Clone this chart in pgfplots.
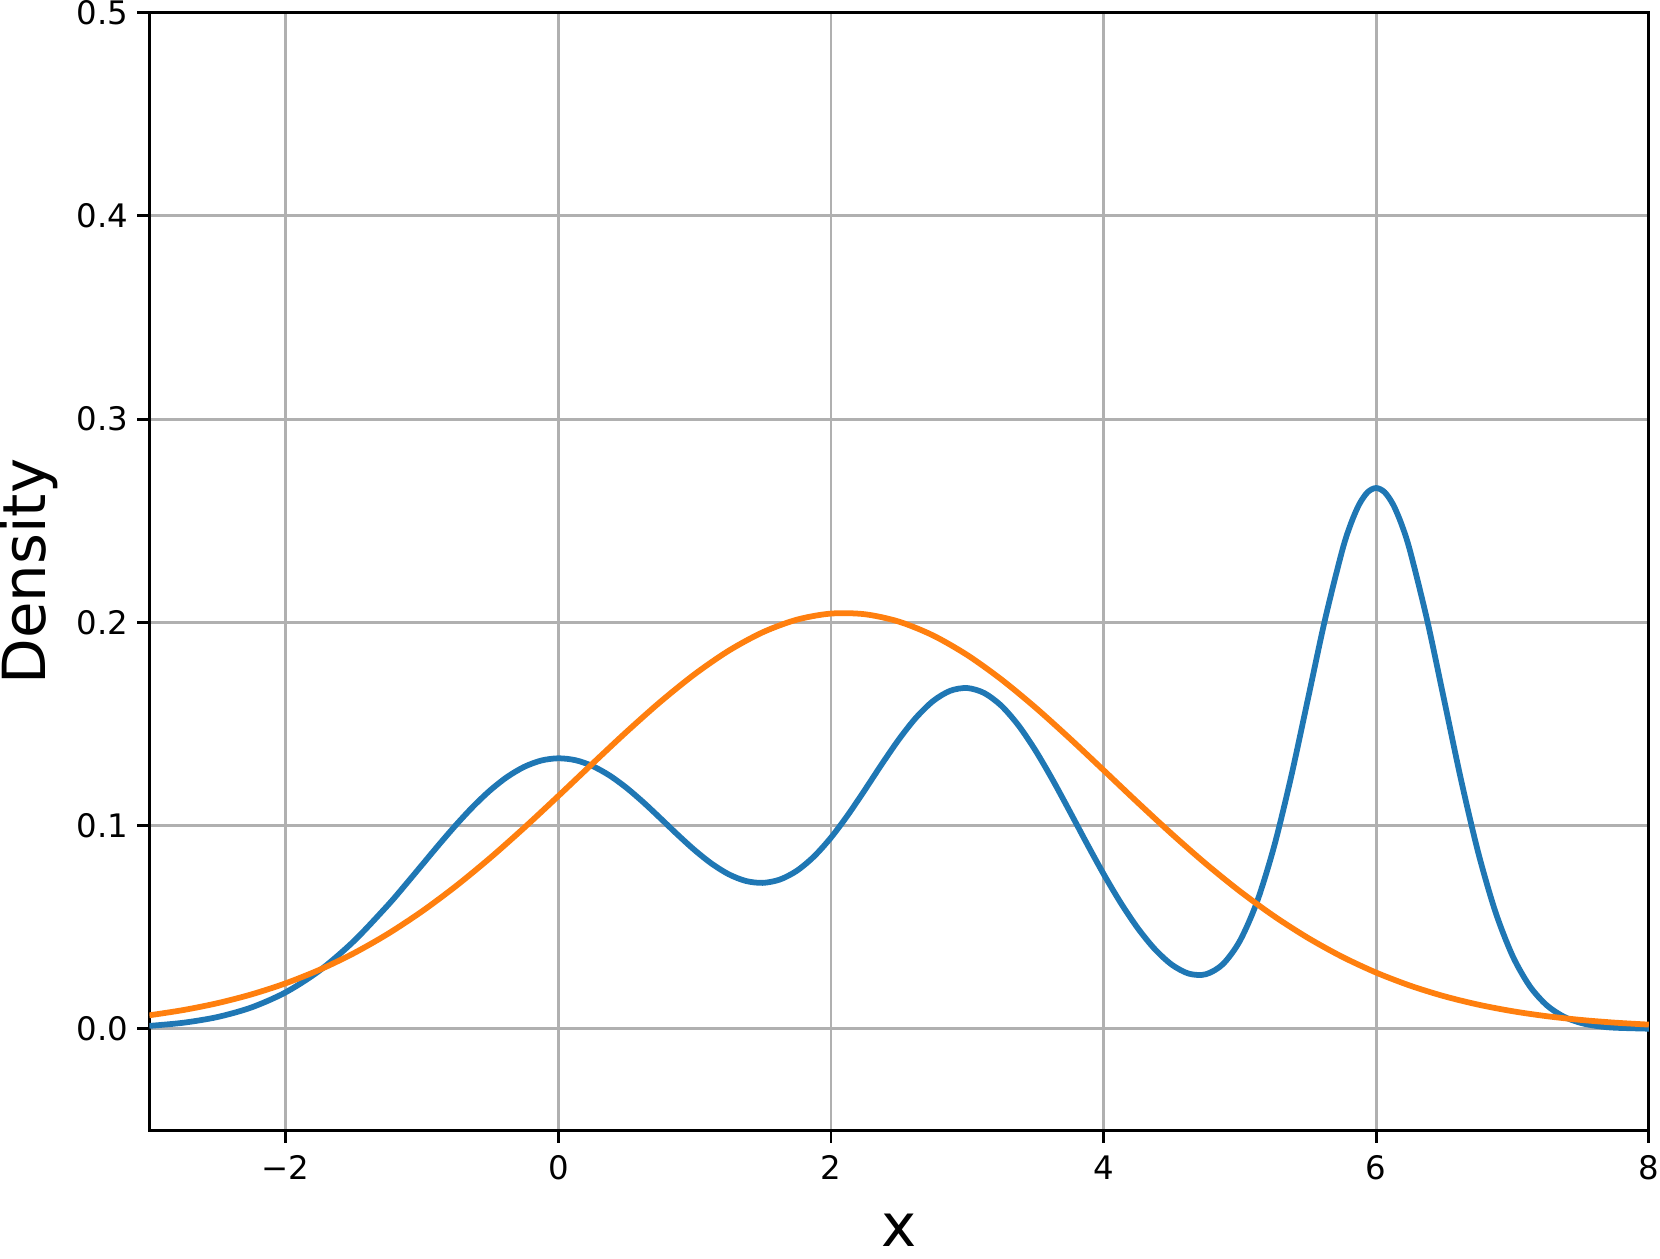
\documentclass[border=0pt]{standalone}
\usepackage{fontspec}
\setmainfont{DejaVu Sans}
\usepackage{pgfplots}
\pgfplotsset{compat=1.18}
\definecolor{mplblue}{HTML}{1F77B4}
\definecolor{mplorange}{HTML}{FF7F0E}
\definecolor{mplgrid}{HTML}{B0B0B0}

\begin{document}
\begin{tikzpicture}
\begin{axis}[
    scale only axis,
    width=416.6pt, height=310.6pt,
    xmin=-3, xmax=8, ymin=-0.05, ymax=0.5,
    xtick={-2,0,2,4,6,8},
    xticklabels={−2,0,2,4,6,8},
    ytick={0,0.1,0.2,0.3,0.4,0.5},
    yticklabels={0.0,0.1,0.2,0.3,0.4,0.5},
    tick pos=left, tick align=outside,
    major tick length=3.4pt,
    tick style={black, line width=0.8pt},
    grid=major,
    grid style={mplgrid, line width=0.8pt},
    axis line style={line width=0.8pt},
    ticklabel style={font=\fontsize{9}{10.8}\selectfont},
    yticklabel style={xshift=1pt},
    label style={font=\fontsize{16.5}{20}\selectfont},
    xlabel={x}, ylabel={Density},
    xlabel style={at={(axis description cs:0.5,-0.1037)}, anchor=base},
    ylabel style={at={(axis description cs:-0.0696,0.5)}, anchor=base},
]
% mixture density
\addplot[mplblue, line width=1.6pt, smooth] coordinates {
    (-3,0.001477) (-2.75,0.003031) (-2.5,0.005843) (-2.25,0.010580)
    (-2,0.017997) (-1.75,0.028759) (-1.5,0.043173) (-1.25,0.060883)
    (-1.125,0.070626) (-1,0.080657) (-0.875,0.090686) (-0.75,0.100379)
    (-0.625,0.109393) (-0.5,0.117368) (-0.375,0.123975) (-0.25,0.128933)
    (-0.125,0.132027) (0,0.133128) (0.125,0.132207) (0.25,0.129341)
    (0.375,0.124716) (0.5,0.118615) (0.625,0.111415) (0.75,0.103563)
    (0.875,0.095568) (1,0.087960) (1.125,0.081290) (1.25,0.076073)
    (1.375,0.072792) (1.5,0.071837) (1.625,0.073465) (1.75,0.077799)
    (1.875,0.084774) (2,0.094101) (2.125,0.105302) (2.25,0.117696)
    (2.375,0.130429) (2.5,0.142577) (2.625,0.153173) (2.75,0.161336)
    (2.875,0.166342) (3,0.167703) (3.125,0.165216) (3.25,0.158981)
    (3.375,0.149378) (3.5,0.137025) (3.625,0.122695) (3.75,0.107245)
    (3.875,0.091499) (4,0.076238) (4.125,0.062106) (4.25,0.049637)
    (4.375,0.039302) (4.5,0.031619) (4.625,0.027184) (4.75,0.026876)
    (4.875,0.031824) (5,0.043297) (5.125,0.062401) (5.25,0.089529)
    (5.375,0.123794) (5.5,0.162573) (5.625,0.201522) (5.75,0.235161)
    (5.8125,0.248247) (5.875,0.258039) (5.9375,0.264087) (6,0.266108)
    (6.0625,0.264000) (6.125,0.257859) (6.1875,0.247962) (6.25,0.234753)
    (6.375,0.200778) (6.5,0.161326) (6.625,0.121766) (6.75,0.086345)
    (6.875,0.057518) (7,0.035994) (7.125,0.021160) (7.25,0.011686)
    (7.375,0.006062) (7.5,0.002955) (7.625,0.001352) (7.75,0.000582)
    (8,0.000089)
};
% single gaussian fit
\addplot[mplorange, line width=1.6pt, smooth] coordinates {
    (-3,0.006691) (-2.75,0.009282) (-2.5,0.012661) (-2.25,0.016996)
    (-2,0.022434) (-1.75,0.029137) (-1.5,0.037226) (-1.25,0.046776)
    (-1,0.057829) (-0.75,0.070318) (-0.5,0.084114) (-0.25,0.098977)
    (0,0.114567) (0.25,0.130455) (0.5,0.146119) (0.75,0.160997)
    (1,0.174504) (1.25,0.186058) (1.5,0.195140) (1.75,0.201330)
    (2,0.204331) (2.25,0.203995) (2.5,0.200340)
    (2.75,0.193543) (3,0.183929) (3.25,0.171942) (3.5,0.158117)
    (3.75,0.143034) (4,0.127278) (4.25,0.111410) (4.5,0.095938)
    (4.75,0.081262) (5,0.067710) (5.25,0.055497) (5.5,0.044745)
    (5.75,0.035486) (6,0.027690) (6.25,0.021250) (6.5,0.016042)
    (6.75,0.011913) (7,0.008703) (7.25,0.006255) (7.5,0.004424)
    (7.75,0.003077) (8,0.002105)
};
\end{axis}
\pgfresetboundingbox
\path[use as bounding box] (-41.5pt,-35.6pt) rectangle (419.7pt,314.1pt);
\end{tikzpicture}
\end{document}
